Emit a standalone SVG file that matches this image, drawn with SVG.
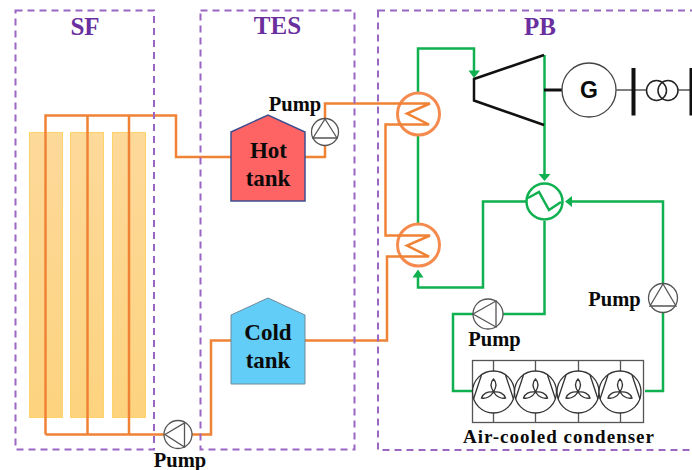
<svg xmlns="http://www.w3.org/2000/svg" xmlns:xlink="http://www.w3.org/1999/xlink" width="692" height="470" viewBox="0 0 692 470">
<style>
text{font-family:"Liberation Serif","Times New Roman",serif;font-weight:700;fill:#0a0a0a;text-anchor:middle}
.zone{fill:none;stroke:#9a66c4;stroke-width:2;stroke-dasharray:7 5}
.zl{font-size:25px;fill:#6a2f9e}
.lb{font-size:20.500px}
.tk{font-size:23px}
.or{fill:none;stroke:#f08236;stroke-width:2.500}
.hx{fill:#fff;stroke:#f58a4e;stroke-width:3}
.gr{fill:none;stroke:#0fb04f;stroke-width:2.500}
.thin{fill:none;stroke:#555;stroke-width:1.300}
.pump{fill:#fff;stroke:#555;stroke-width:1.300}
.col{fill:url(#cg);stroke:#fdd36a;stroke-width:1}
.fan{fill:#fff;stroke:#333;stroke-width:1.300}
.bl{fill:none;stroke:#333;stroke-width:1.300}
.blk{fill:none;stroke:#111;stroke-width:2.500}
</style>
<defs>
<linearGradient id="cg" x1="0" y1="0" x2="0" y2="1"><stop offset="0" stop-color="#fdd99a"/><stop offset="1" stop-color="#fdd37f"/></linearGradient>
<g id="fanu">
<circle class="fan" r="21"/>
<path class="bl" d="M-12,-17 L-20,7 M12,-17 L20,7"/>
<path class="bl" d="M0,0 C-3,-5 -3,-10 0,-13 C3,-10 3,-5 0,0 Z M0,0 C-3,5 -8,7 -12,6 C-11,2 -6,-1 0,0 Z M0,0 C3,5 8,7 12,6 C11,2 6,-1 0,0 Z"/>
</g>
</defs>
<g id="collectors">
<rect class="col" x="29.500" y="132.500" width="33" height="285"/>
<rect class="col" x="70.500" y="132.500" width="33" height="285"/>
<rect class="col" x="112.500" y="132.500" width="33" height="285"/>
</g>
<g id="connectors">
<path class="or" d="M45.500,434.500 V115.500 H176 V157 H231"/>
<path class="or" d="M87.500,115.500 V434.500 M129,115.500 V434.500"/>
<path class="or" d="M45.500,434.500 H165 M192,434.500 H211 V340.500 H231"/>
<path class="or" d="M305,157 H325 V146"/>
<path class="or" d="M325,118 V103.500 H398"/>
<path class="or" d="M398,124.500 H385.500 V235.500 H398"/>
<path class="or" d="M398,256.500 H387 V340.500 H305"/>
<path class="gr" d="M418,93 V48.500 H474 V72"/>
<path class="gr" d="M418,135 V224"/>
<path class="gr" d="M544.500,55 V174"/>
<path class="gr" d="M526,201.500 H483 V287.500 H418 V277"/>
<path class="gr" d="M571,201.500 H663 V283"/>
<path class="gr" d="M663,313 V391 H645"/>
<path class="gr" d="M472,391 H453 V314 H473"/>
<path class="gr" d="M503,314 H544.500 V221"/>
<path d="M468.500,70.500 H480 L474,78 Z M538.500,174 H550.500 L544.500,181 Z M412.500,277.500 H423.500 L418,269.500 Z M572,196 V207 L565,201.500 Z" fill="#0fb04f"/>
<path class="blk" d="M544,90 H563" style="stroke-width:3"/>
</g>
<g id="zone-sf"><rect class="zone" x="15.500" y="10.500" width="138.500" height="439"/><text class="zl" x="85" y="35">SF</text></g>
<g id="zone-tes"><rect class="zone" x="200.500" y="10.500" width="154" height="439"/><text class="zl" x="277.500" y="34">TES</text></g>
<g id="zone-pb"><rect class="zone" x="378" y="10.500" width="320" height="439.500"/><text class="zl" x="540" y="35">PB</text></g>
<g id="hot-tank"><path d="M231,132 L268,115 L305,132 V201 H231 Z" fill="#fe6464" stroke="#3f4f8f" stroke-width="1.500"/><text class="tk" x="268.500" y="158">Hot</text><text class="tk" x="268" y="186">tank</text></g>
<g id="cold-tank"><path d="M231,315 L268,298 L305,315 V384 H231 Z" fill="#62cdf6" stroke="#6f8a9a" stroke-width="1"/><text class="tk" x="268" y="340">Cold</text><text class="tk" x="268" y="368">tank</text></g>
<g id="pump-hot"><circle class="pump" cx="325" cy="132" r="13.500"/><path class="thin" d="M325,119 L337,138 H313 Z"/><text class="lb" x="295" y="111">Pump</text></g>
<g id="pump-cold"><circle class="pump" cx="178" cy="434.500" r="14"/><path class="thin" d="M165,434.500 L184.500,423 V447 Z"/><text class="lb" x="180" y="467">Pump</text></g>
<g id="pump-return"><circle class="pump" cx="488" cy="314" r="15"/><path class="thin" d="M473,314 L496,301 V327 Z"/><text class="lb" x="494.500" y="346">Pump</text></g>
<g id="pump-feed"><circle class="pump" cx="663" cy="298" r="14.500"/><path class="thin" d="M663,284 L676,306 H650 Z"/><text class="lb" x="614.500" y="306">Pump</text></g>
<g id="hx-1"><circle class="hx" cx="418.500" cy="114" r="21"/><path class="or" d="M398,103.500 H430 L407,113.500 L429,124.500 H398"/></g>
<g id="hx-2"><circle class="hx" cx="418.500" cy="245" r="21"/><path class="or" d="M398,235.500 H430 L407,245.500 L429,256.500 H398"/></g>
<g id="hx-3"><circle cx="544.500" cy="201.500" r="18" fill="#fff" stroke="#0fb04f" stroke-width="2.500"/><path class="gr" d="M528,198 L539,192 L549,210 L561,202"/></g>
<g id="turbine"><path class="blk" d="M544,55 L474,79 V100.500 L544,125"/></g>
<g id="generator">
<circle cx="589" cy="90" r="27" fill="#fff" stroke="#444" stroke-width="1.300"/>
<text x="589" y="98" style="font-family:'Liberation Sans',Arial,sans-serif;font-size:23px">G</text>
<path class="thin" d="M616,90 H647 M678,90 H692"/>
<path d="M633.500,68 V115.500 M691.500,68 V115.500" fill="none" stroke="#111" stroke-width="4"/>
<circle cx="656.500" cy="90.500" r="10" fill="none" stroke="#222" stroke-width="1.500"/>
<circle cx="668" cy="90.500" r="10" fill="none" stroke="#222" stroke-width="1.500"/>
</g>
<g id="condenser">
<rect x="472.500" y="360.500" width="171" height="62" fill="#fff" stroke="#555" stroke-width="1.300"/>
<path class="thin" d="M493.500,360 V371 M535.500,360 V371 M578.500,360 V371 M620.500,360 V371 M493.500,413 V422 M535.500,413 V422 M578.500,413 V422 M620.500,413 V422"/>
<use xlink:href="#fanu" href="#fanu" x="493.500" y="392"/>
<use xlink:href="#fanu" href="#fanu" x="535.500" y="392"/>
<use xlink:href="#fanu" href="#fanu" x="578" y="392"/>
<use xlink:href="#fanu" href="#fanu" x="620" y="392"/>
<text x="558.500" y="443" style="font-size:19px" textLength="191" lengthAdjust="spacing">Air-cooled condenser</text>
</g>
</svg>
